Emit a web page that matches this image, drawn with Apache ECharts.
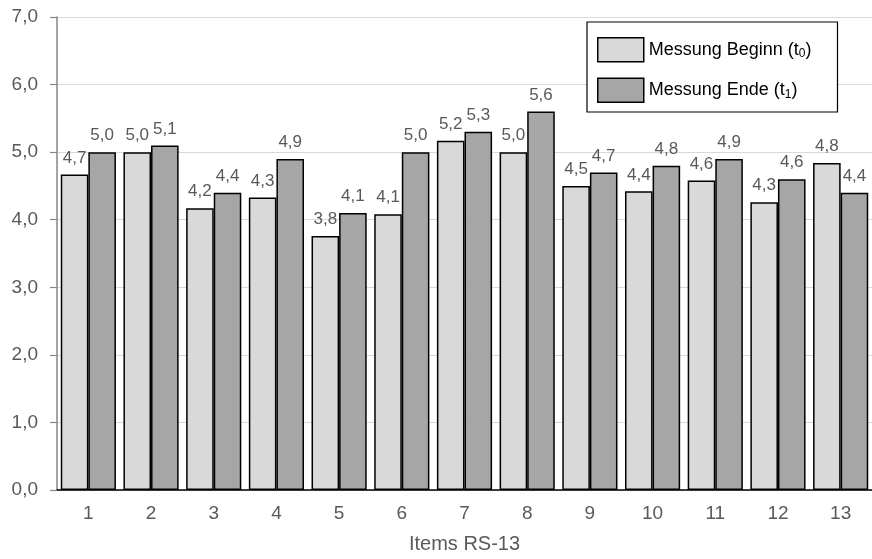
<!DOCTYPE html>
<html>
<head>
<meta charset="utf-8">
<script src="https://cdn.jsdelivr.net/npm/echarts@6/dist/echarts.min.js"></script>
<style>
  html, body { margin: 0; padding: 0; background: #fff; }
  #chart { width: 872px; height: 559px; }
</style>
</head>
<body>
<div id="chart"></div>
<script>
// Item numbers on the x axis
const items = ['1', '2', '3', '4', '5', '6', '7', '8', '9', '10', '11', '12', '13'];
// Mean scores at the start (t0) and end (t1) of measurement
const beginValues = [4.67, 5.0, 4.17, 4.33, 3.76, 4.08, 5.17, 5.0, 4.5, 4.42, 4.58, 4.26, 4.84];
const endValues   = [5.0, 5.1, 4.4, 4.9, 4.1, 5.0, 5.3, 5.6, 4.7, 4.8, 4.9, 4.6, 4.4];
const yTicks = [0, 1, 2, 3, 4, 5, 6, 7];

const FONT = '"Liberation Sans", Arial, sans-serif';
const TEXT = '#595959';
const fmt = v => v.toFixed(1).replace('.', ',');

const chart = echarts.init(document.getElementById('chart'), null, { renderer: 'canvas' });

const labelCfg = {
  show: true,
  position: 'top',
  distance: 8,
  color: TEXT,
  fontFamily: FONT,
  fontSize: 17,
  formatter: p => fmt(p.value)
};

chart.setOption({
  animation: false,
  backgroundColor: '#fff',
  grid: { left: 57, right: 0, top: 17, bottom: 67, containLabel: false },
  legend: {
    orient: 'vertical',
    left: 587,
    top: 22,
    padding: [15, 26, 9, 10],
    itemWidth: 46,
    itemHeight: 24,
    itemGap: 15,
    backgroundColor: '#fff',
    borderColor: '#000',
    borderWidth: 1.2,
    icon: 'rect',
    itemStyle: { borderColor: '#000', borderWidth: 1.5 },
    textStyle: {
      color: '#000',
      fontFamily: FONT,
      fontSize: 18,
      rich: {
        s: { fontSize: 12, fontFamily: FONT, color: '#000', padding: [8, 0, 0, 0] }
      }
    },
    formatter: name => name === 'begin' ? 'Messung Beginn (t{s|0})' : 'Messung Ende (t{s|1})'
  },
  xAxis: {
    type: 'category',
    data: items,
    name: 'Items RS-13',
    nameLocation: 'middle',
    nameGap: 44,
    nameTextStyle: { color: TEXT, fontFamily: FONT, fontSize: 20 },
    axisLine: { lineStyle: { color: '#000', width: 1.5 } },
    axisTick: { show: false },
    axisLabel: { color: TEXT, fontFamily: FONT, fontSize: 19, margin: 14 }
  },
  yAxis: {
    type: 'value',
    min: yTicks[0],
    max: yTicks[yTicks.length - 1],
    interval: 1,
    axisLine: { show: true, lineStyle: { color: '#868686', width: 1.5 } },
    axisTick: { show: true, length: 7, lineStyle: { color: '#868686', width: 1.2 } },
    axisLabel: { color: TEXT, fontFamily: FONT, fontSize: 19, margin: 19, formatter: v => fmt(v) },
    splitLine: { lineStyle: { color: '#d9d9d9', width: 1.2 } }
  },
  series: [
    {
      name: 'begin',
      type: 'bar',
      data: beginValues,
      barGap: '0%',
      barCategoryGap: '12%',
      itemStyle: { color: '#d9d9d9', borderColor: '#000', borderWidth: 1.5 },
      label: labelCfg
    },
    {
      name: 'end',
      type: 'bar',
      data: endValues,
      barGap: '0%',
      barCategoryGap: '12%',
      itemStyle: { color: '#a6a6a6', borderColor: '#000', borderWidth: 1.5 },
      label: labelCfg
    }
  ]
});
</script>
</body>
</html>
